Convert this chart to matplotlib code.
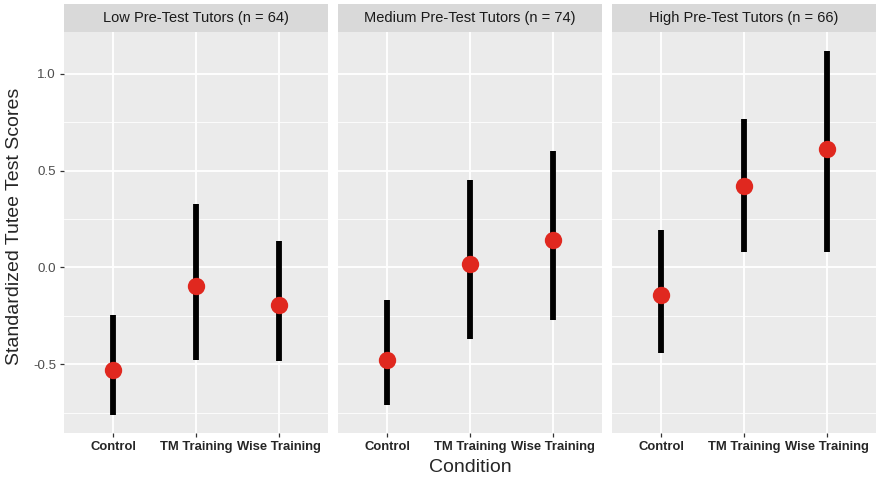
import matplotlib
matplotlib.use("Agg")
import matplotlib.pyplot as plt
import numpy as np

plt.rcParams['font.family'] = ['Liberation Sans', 'DejaVu Sans']

groups = ["Low Pre-Test Tutors (n = 64)", "Medium Pre-Test Tutors (n = 74)", "High Pre-Test Tutors (n = 66)"]
conditions = ["Control", "TM Training", "Wise Training"]

means_low = [-0.527, -0.097, -0.193]
lower_low = [-0.762, -0.477, -0.482]
upper_low = [-0.247, 0.326, 0.137]

means_med = [-0.480, 0.019, 0.140]
lower_med = [-0.712, -0.368, -0.270]
upper_med = [-0.166, 0.452, 0.603]

means_high = [-0.143, 0.420, 0.610]
lower_high = [-0.440, 0.080, 0.080]
upper_high = [0.193, 0.767, 1.120]

y_ticks = [-0.5, 0.0, 0.5, 1.0]
y_ticklabels = ["-0.5", "0.0", "0.5", "1.0"]
y_minor = [-0.75, -0.25, 0.25, 0.75]

means = [means_low, means_med, means_high]
lowers = [lower_low, lower_med, lower_high]
uppers = [upper_low, upper_med, upper_high]

W, H = 878, 478
fig = plt.figure(figsize=(W / 100, H / 100), dpi=100)

panel_lefts = [63.7, 337.7, 611.7]
panel_w = 264.6
panel_top = 32.3
panel_bot = 433.3
strip_top = 4.0

ymin, ymax = -0.856, 1.214
x = np.arange(len(conditions))

for i, (g, m, lo, up) in enumerate(zip(groups, means, lowers, uppers)):
    left = panel_lefts[i]
    ax = fig.add_axes([left / W, (H - panel_bot) / H, panel_w / W, (panel_bot - panel_top) / H])
    ax.set_facecolor('#EBEBEB')
    for s in ax.spines.values():
        s.set_visible(False)
    ax.set_xlim(-0.6, 2.6)
    ax.set_ylim(ymin, ymax)
    for yv in y_minor:
        ax.axhline(yv, color='white', lw=0.6, zorder=0)
    for yv in y_ticks:
        ax.axhline(yv, color='white', lw=1.3, zorder=0)
    for xv in x:
        ax.axvline(xv, color='white', lw=1.3, zorder=0)
    ax.vlines(x, lo, up, color='black', lw=4.2, zorder=2)
    ax.plot(x, m, 'o', color='#E0281F', markersize=12.5, markeredgewidth=0, zorder=3)
    ax.set_xticks(x)
    ax.set_xticklabels(conditions, fontsize=9.4, fontweight='bold', color='#262626')
    ax.tick_params(axis='both', length=3, width=0.9, color='#333333', pad=2.5)
    ax.set_yticks(y_ticks)
    if i == 0:
        ax.set_yticklabels(y_ticklabels, fontsize=9.6, color='#4D4D4D')
    else:
        ax.tick_params(axis='y', left=False, labelleft=False)
    # strip
    sax = fig.add_axes([left / W, (H - panel_top) / H, panel_w / W, (panel_top - strip_top) / H])
    sax.set_facecolor('#D9D9D9')
    for s in sax.spines.values():
        s.set_visible(False)
    sax.set_xticks([])
    sax.set_yticks([])
    sax.text(0.5, 0.5, g, ha='center', va='center', fontsize=10.5, color='#1A1A1A',
             transform=sax.transAxes)

fig.text((panel_lefts[0] + panel_lefts[2] + panel_w) / 2 / W, 1 - 467 / H, "Condition",
         ha='center', va='center', fontsize=14, color='#262626')
fig.text(14.5 / W, 1 - 226 / H, "Standardized Tutee Test Scores",
         ha='center', va='center', rotation=90, fontsize=14, color='#262626')

fig.savefig("out.png", dpi=100)
